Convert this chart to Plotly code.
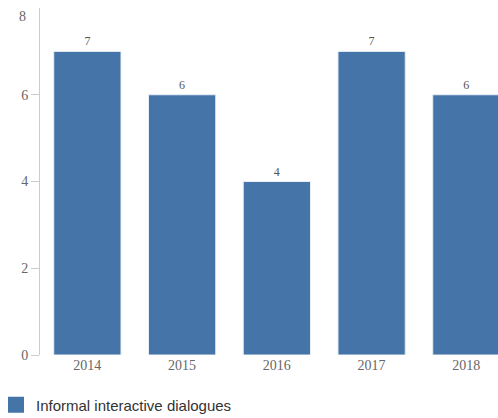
import plotly.graph_objects as go

years = ["2014", "2015", "2016", "2017", "2018"]
values = [7, 6, 4, 7, 6]
y_ticks = [0, 2, 4, 6]
y_top = 8
series_name = "Informal interactive dialogues"
bar_color = "#4575a8"

W, H = 498, 418

fig = go.Figure()
fig.add_trace(go.Bar(
    x=years, y=values, text=[str(v) for v in values], textposition="outside",
    textfont=dict(family="Liberation Serif", size=12, color="#555"),
    marker=dict(color=bar_color, line=dict(color="#e8eef5", width=1)),
    cliponaxis=False, showlegend=False, name=series_name,
))
fig.add_trace(go.Scatter(
    x=[None], y=[None], mode="markers", name=series_name,
    marker=dict(symbol="square", size=16, color=bar_color),
))
fig.add_annotation(
    x=0, xref="x domain", xanchor="right", xshift=-12, y=y_top, yref="y",
    yanchor="middle", yshift=-9, text=str(y_top), showarrow=False,
    font=dict(family="Liberation Serif", size=14, color="#666"),
)
fig.update_layout(
    width=W, height=H,
    margin=dict(l=0, r=0, t=0, b=0, autoexpand=False),
    plot_bgcolor="white", paper_bgcolor="white",
    bargap=0.29,
    showlegend=True,
    legend=dict(x=-4 / W, xanchor="left", y=1 - 405 / H, yanchor="middle",
                font=dict(family="Liberation Sans", size=15, color="#333"),
                itemsizing="trace"),
    xaxis=dict(type="category", domain=[40 / W, 1], range=[-0.5, 4.334],
               showline=False, showgrid=False, ticks="",
               tickfont=dict(family="Liberation Serif", size=14, color="#666")),
    yaxis=dict(domain=[1 - 355 / H, 1 - 8 / H], range=[0, y_top],
               tickvals=y_ticks, showline=True, linecolor="#ccc",
               linewidth=1, showgrid=False, zeroline=False, ticks="outside", ticklen=8,
               tickcolor="#ccc", tickfont=dict(family="Liberation Serif", size=14, color="#666")),
)
fig.write_html("out.html", config={"displayModeBar": False},
               post_script="document.body.style.margin='0';document.body.style.overflow='hidden';")
